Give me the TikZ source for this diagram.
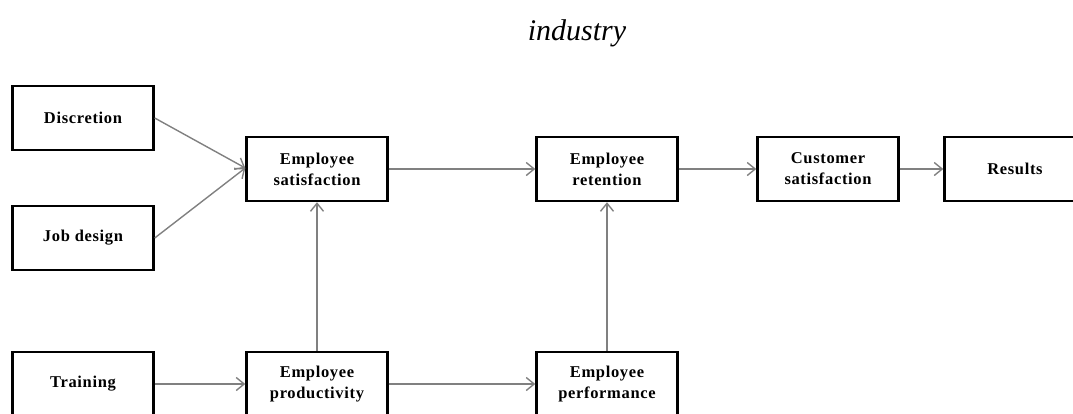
\documentclass[tikz,border=0pt]{standalone}
\usepackage{fontspec}
\setmainfont{Liberation Serif}
\newfontfamily\boxfont[LetterSpace=4]{Liberation Serif}
\usetikzlibrary{arrows.meta}
\begin{document}
\begin{tikzpicture}[x=1pt,y=-1pt,
  stage/.style={draw=black,line width=2.4pt,fill=white,minimum width=141pt,minimum height=64pt,
    inner sep=0pt,align=center,font=\boxfont\bfseries\fontsize{16.5}{21}\selectfont},
  link/.style={draw=black!50,line width=1.4pt,-{Straight Barb[length=8pt,width=13pt,line width=1.4pt]}}]
\useasboundingbox (0,0) rectangle (1073,413);
% heading
\node[font=\itshape\fontsize{30}{34}\selectfont,anchor=base] (head) at (577,40) {industry};
% boxes
\node[stage] (disc) at (83,118) {Discretion};
\node[stage] (job) at (83,238) {Job design};
\node[stage] (train) at (83,384) {Training};
\node[stage] (esat) at (317,169) {Employee\\satisfaction};
\node[stage] (eprod) at (317,384) {Employee\\productivity};
\node[stage] (eret) at (607,169) {Employee\\retention};
\node[stage] (eperf) at (607,384) {Employee\\performance};
\node[stage] (csat) at (828,169) {Customer\\satisfaction};
\node[stage] (res) at (1015,169) {Results};
% connectors
\coordinate (in) at ([yshift=1pt]esat.west);
\draw[link] (disc.east) -- (in);
\draw[link] (job.east) -- (in);
\draw[link] (train.east) -- (eprod.west);
\draw[link] (eprod.east) -- (eperf.west);
\draw[link] (eprod.north) -- (esat.south);
\draw[link] (eperf.north) -- (eret.south);
\draw[link] (esat.east) -- (eret.west);
\draw[link] (eret.east) -- (csat.west);
\draw[link] (csat.east) -- (res.west);
\end{tikzpicture}
\end{document}
